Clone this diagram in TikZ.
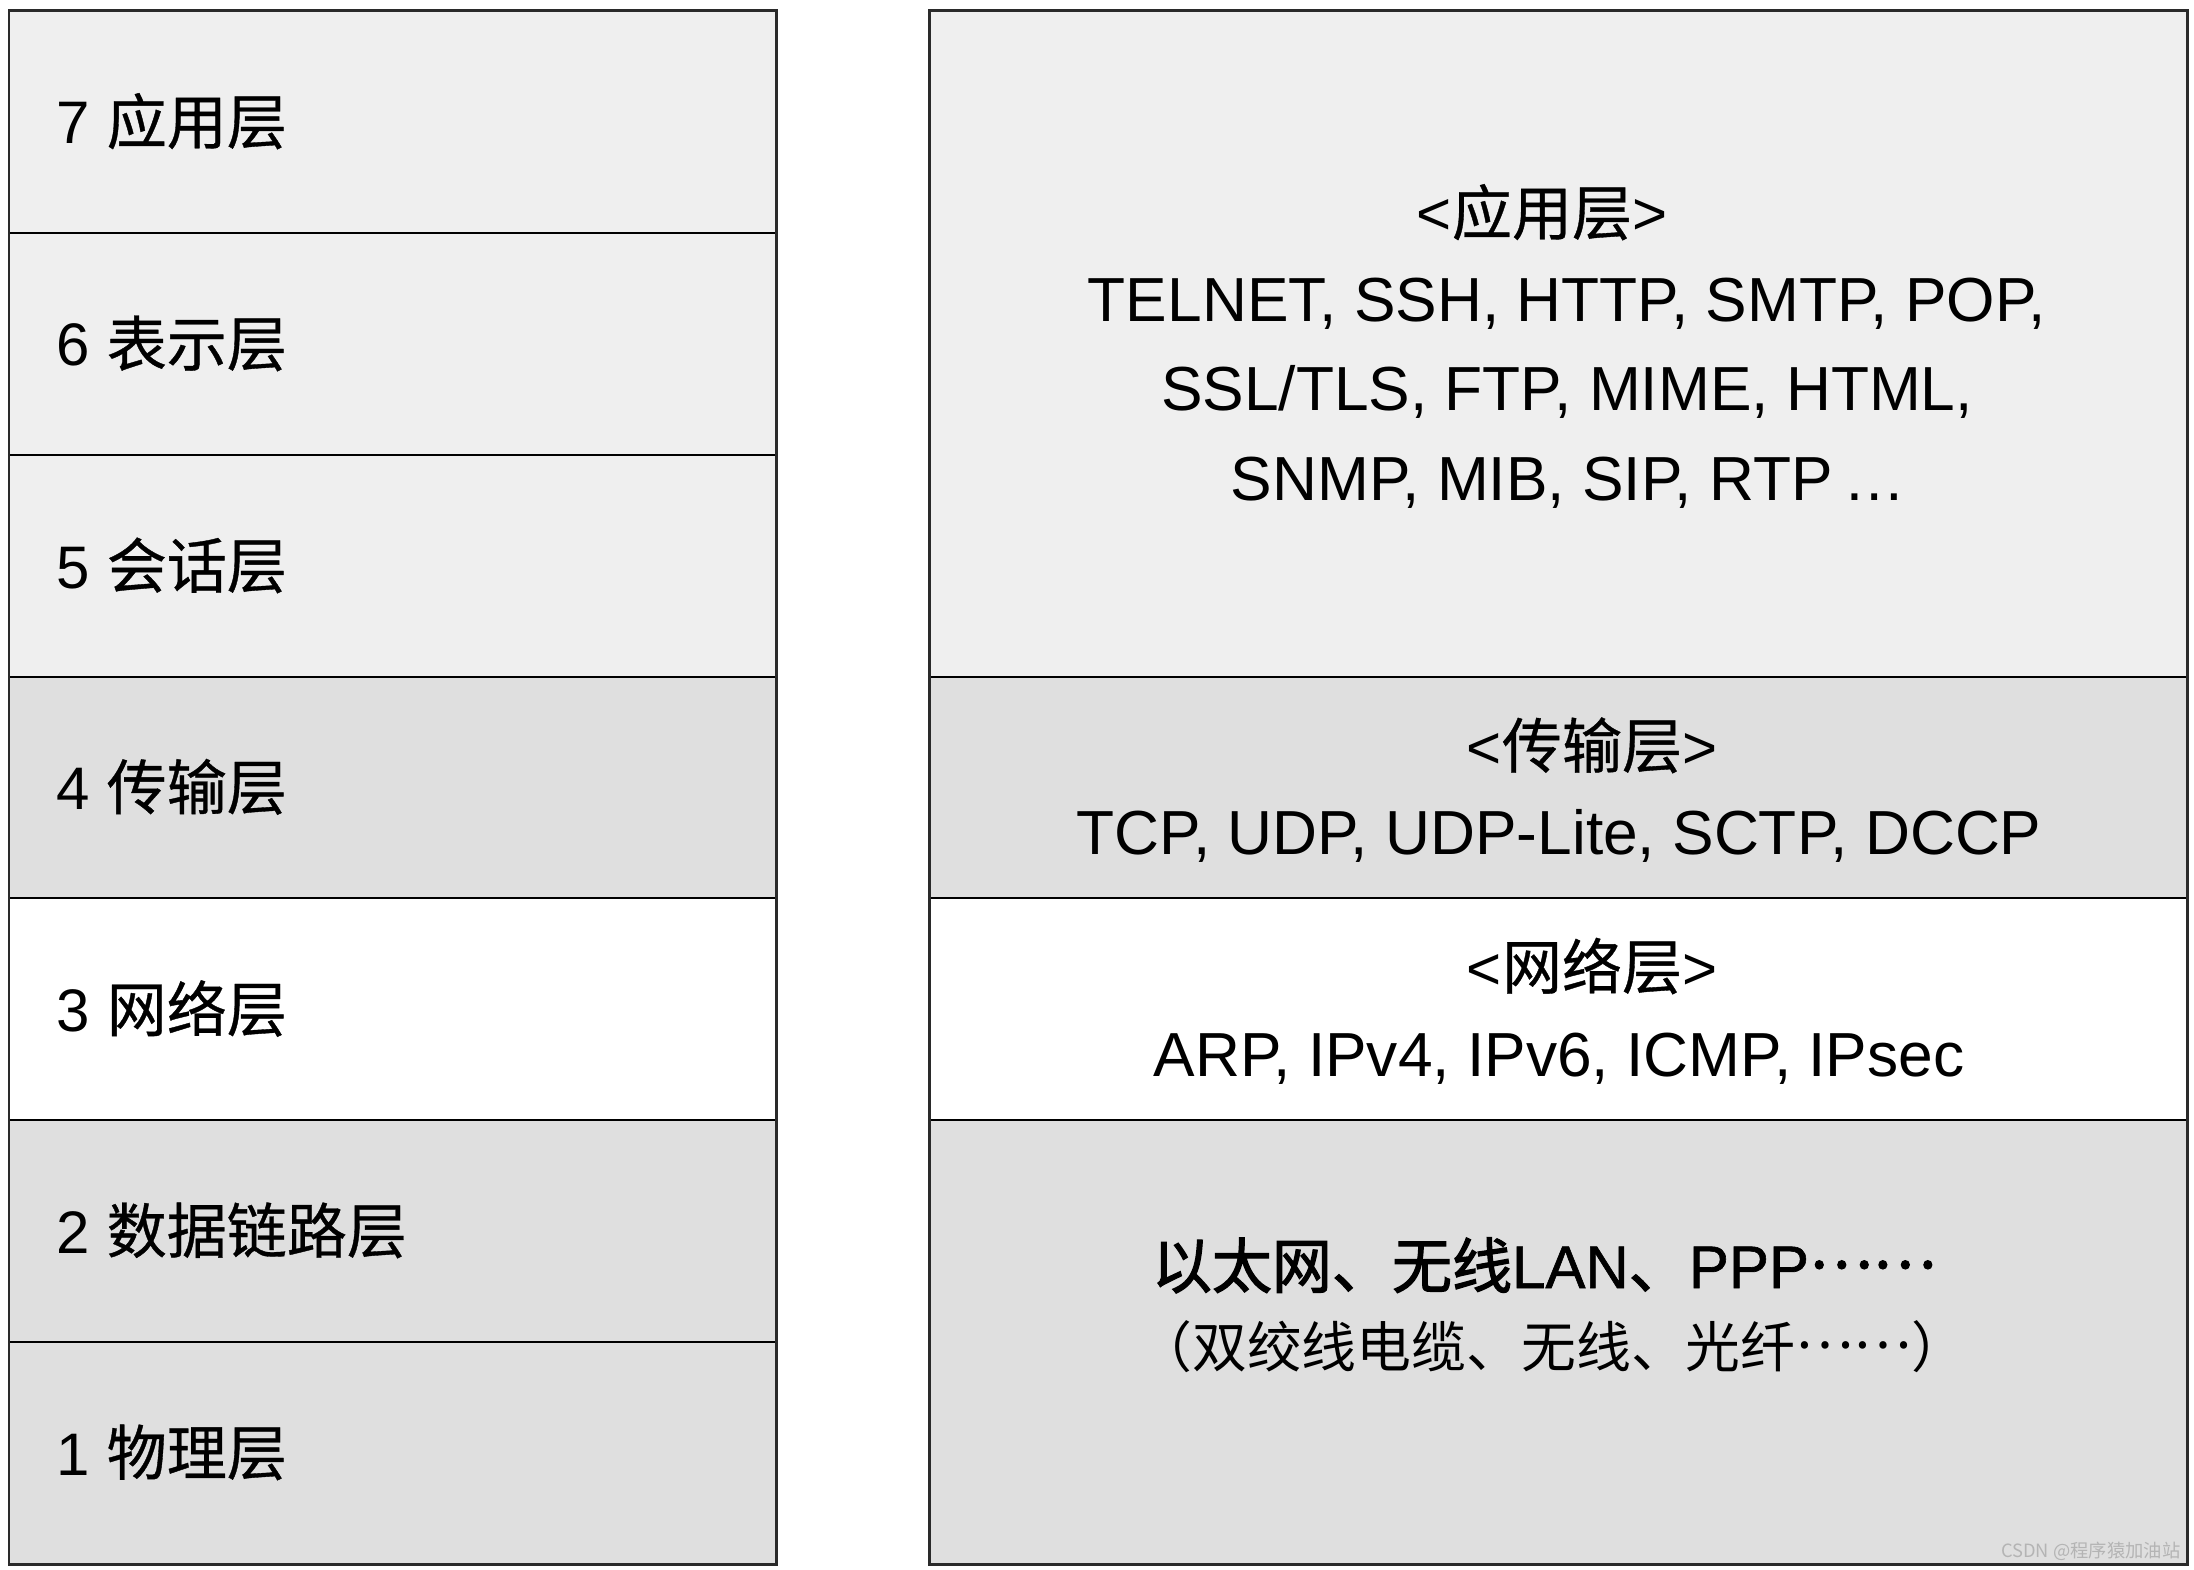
\documentclass[tikz,border=0pt]{standalone}
\usepackage{fontspec}
\setmainfont{Liberation Sans}
\newfontfamily\cjk[FakeBold=0.6]{Noto Sans CJK SC}
\newfontfamily\cjklt{Noto Sans CJK SC}
\newfontfamily\cjkb[FakeBold=2]{Noto Sans CJK SC}
\newfontfamily\latb[FakeBold=1]{Liberation Sans}
\definecolor{lg}{HTML}{EFEFEF}
\definecolor{mg}{HTML}{DFDFDF}
\definecolor{bd}{HTML}{2A2A2A}
\definecolor{wm}{HTML}{B4B4B4}
\newcommand{\midell}{\raisebox{0.33em}{……}}
\begin{document}
\begin{tikzpicture}[x=0.01cm,y=-0.01cm,
  lbl/.style={anchor=base west,inner sep=0pt,font=\fontsize{17.07pt}{20pt}\selectfont},
  head/.style={anchor=base,inner sep=0pt,font=\fontsize{17.07pt}{20pt}\selectfont},
  txt/.style={anchor=base,inner sep=0pt,font=\fontsize{17.7pt}{20pt}\selectfont},
  sub/.style={anchor=base,inner sep=0pt,font=\fontsize{15.6pt}{18pt}\selectfont},
  sep/.style={draw=black,line width=0.55pt},
  frame/.style={draw=bd,line width=0.85pt}]
\useasboundingbox (0,0) rectangle (2194,1570);
\fill[white] (0,0) rectangle (2194,1570);
% left column fills
\fill[lg] (9,11) rectangle (776,676.6);
\fill[mg] (9,676.6) rectangle (776,898.4);
\fill[white] (9,898.4) rectangle (776,1120.3);
\fill[mg] (9,1120.3) rectangle (776,1564);
% right column fills
\fill[lg] (929,11) rectangle (2187,676.6);
\fill[mg] (929,676.6) rectangle (2187,898.4);
\fill[white] (929,898.4) rectangle (2187,1120.3);
\fill[mg] (929,1120.3) rectangle (2187,1564);
% separators
\foreach \yy in {232.9,454.7,676.6,898.4,1120.3,1342.1}
  \draw[sep] (9,\yy) -- (776,\yy);
\foreach \yy in {676.6,898.4,1120.3}
  \draw[sep] (929,\yy) -- (2187,\yy);
% frames
\draw[frame] (9,11) rectangle (776,1564);
\draw[frame] (929,11) rectangle (2187,1564);
% left labels
\node[lbl] (l7) at (56,144) {7 {\cjk 应用层}};
\node[lbl] (l6) at (56,366) {6 {\cjk 表示层}};
\node[lbl] (l5) at (56,588) {5 {\cjk 会话层}};
\node[lbl] (l4) at (56,809.5) {4 {\cjk 传输层}};
\node[lbl] (l3) at (56,1031.5) {3 {\cjk 网络层}};
\node[lbl] (l2) at (56,1253) {2 {\cjk 数据链路层}};
\node[lbl] (l1) at (56,1475) {1 {\cjk 物理层}};
% application
\node[head] (ah) at (1542,235) {<{\cjk 应用层}>};
\node[txt] (a1) at (1567,322) {TELNET, SSH, HTTP, SMTP, POP,};
\node[txt] (a2) at (1567,411) {SSL/TLS, FTP, MIME, HTML,};
\node[txt] (a3) at (1568,501) {SNMP, MIB, SIP, RTP\,…};
% transport
\node[head] (th) at (1592,768) {<{\cjk 传输层}>};
\node[txt] (t1) at (1559,854) {TCP, UDP, UDP-Lite, SCTP, DCCP};
% network
\node[head] (nh) at (1592,989) {<{\cjk 网络层}>};
\node[txt] (n1) at (1559,1076) {ARP, IPv4, IPv6, ICMP, IPsec};
% link / physical
\node[head] (d1) at (1544,1288) {{\cjkb 以太网、无线}{\latb LAN}{\cjkb 、}{\latb PPP}{\cjkb \midell}};
\node[sub] (d2) at (1552,1367) {\cjklt （双绞线电缆、无线、光纤\midell）};
% watermark
\node[anchor=base east,inner sep=0pt,text=wm,font=\cjklt\fontsize{5.2pt}{6pt}\selectfont] (wmk) at (2181,1557) {CSDN @程序猿加油站};
\end{tikzpicture}
\end{document}
